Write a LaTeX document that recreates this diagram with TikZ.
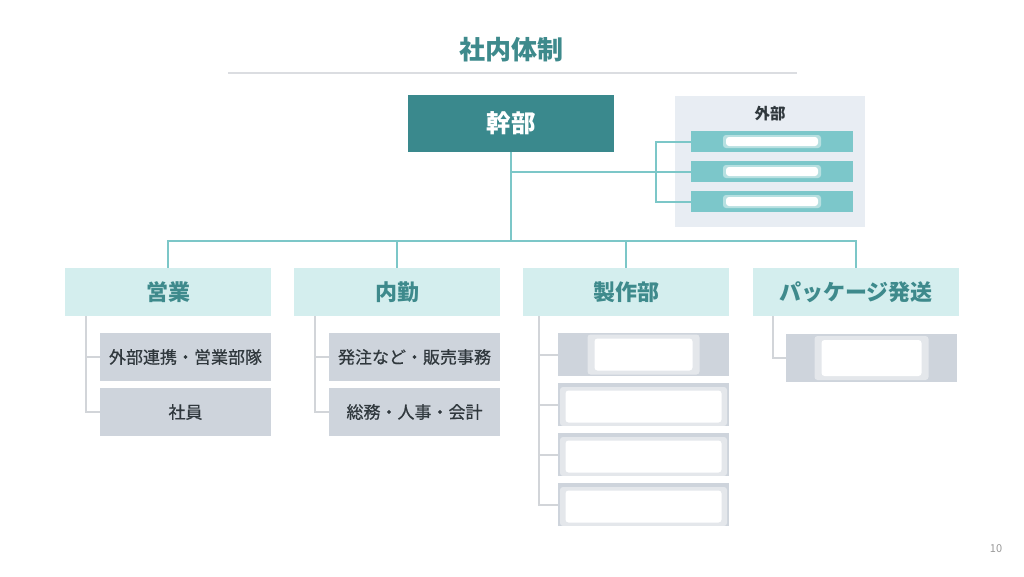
\documentclass[tikz,border=0pt]{standalone}
\usepackage{fontspec}
\setmainfont{Noto Sans CJK JP}
\definecolor{teal1}{HTML}{3A898D}
\definecolor{tealtext}{HTML}{3E8A8C}
\definecolor{tealline}{HTML}{7CC7C8}
\definecolor{deptfill}{HTML}{D4EEEE}
\definecolor{subfill}{HTML}{CED4DC}
\definecolor{grayline}{HTML}{D2D5D9}
\definecolor{extfill}{HTML}{E8EDF3}
\definecolor{extbar}{HTML}{7CC7CA}
\definecolor{darktext}{HTML}{30383D}
\tikzset{
  headbox/.style={fill=teal1, text=white, font=\fontsize{24.5}{28}\selectfont\bfseries, inner sep=0pt, minimum width=206pt, minimum height=57pt},
  deptbox/.style={fill=deptfill, text=tealtext, font=\fontsize{22}{26}\selectfont\bfseries, inner sep=0pt, minimum width=206pt, minimum height=48pt},
  subbox/.style={fill=subfill, text=darktext, font=\fontsize{17}{20}\selectfont\addfontfeature{FakeBold=0.6}, inner sep=0pt, minimum width=171pt, minimum height=48pt},
  prodbox/.style={fill=subfill, inner sep=0pt, minimum width=171pt, minimum height=43pt},
  extbarbox/.style={fill=extbar, inner sep=0pt, minimum width=162pt, minimum height=21pt},
  blur/.style={fill=white, inner sep=0pt, rounded corners=3pt},
  tline/.style={draw=tealline, line width=2pt},
  gline/.style={draw=grayline, line width=2pt},
}
\begin{document}
\begin{tikzpicture}[x=1pt,y=-1pt]
\useasboundingbox (0,0) rectangle (1024,576);
% title
\node[text=tealtext, font=\fontsize{26}{30}\selectfont\bfseries] (title) at (511,50) {社内体制};
\coordinate (rl) at (228,73);
\coordinate (rr) at (797,73);
\draw[draw=grayline!80, line width=1.2pt] (rl) -- (rr);
% head
\node[headbox] (head) at (511,123.5) {幹部};
% external
\node[fill=extfill, inner sep=0pt, minimum width=190pt, minimum height=131pt] (ext) at (770,161.5) {};
\node[text=darktext, font=\fontsize{15.5}{18}\selectfont\bfseries] (extlabel) at (770,114) {外部};
\node[extbarbox] (e1) at (772,141.5) {};
\node[extbarbox] (e2) at (772,171.5) {};
\node[extbarbox] (e3) at (772,201.5) {};
\foreach \n in {e1,e2,e3}{
  \node[blur, minimum width=98pt, minimum height=13pt, fill opacity=0.45] at (\n.center) {};
  \node[blur, minimum width=92pt, minimum height=9pt] at (\n.center) {};
}
% departments
\node[deptbox] (d1) at (168,292) {営業};
\node[deptbox] (d2) at (397,292) {内勤};
\node[deptbox] (d3) at (626,292) {製作部};
\node[deptbox] (d4) at (856,292) {パッケージ発送};
% connectors teal
\coordinate (bus) at (511,241);
\coordinate (extj) at (511,171.5);
\coordinate (bx) at (656,171.5);
\draw[tline] (head.south) -- (bus);
\draw[tline] (extj) -- (e2.west);
\draw[tline] (e1.west) -- (e1.west -| bx) -- (e3.west -| bx) -- (e3.west);
\draw[tline] (d1.north) -- (d1.north |- bus) -- (d4.north |- bus) -- (d4.north);
\draw[tline] (d2.north) -- (d2.north |- bus);
\draw[tline] (d3.north) -- (d3.north |- bus);
% sub boxes
\node[subbox] (s11) at (185.5,357) {外部連携・営業部隊};
\node[subbox] (s12) at (185.5,412) {社員};
\node[subbox] (s21) at (414.5,357) {発注など・販売事務};
\node[subbox] (s22) at (414.5,412) {総務・人事・会計};
\node[prodbox] (p1) at (643.5,354.5) {};
\node[prodbox] (p2) at (643.5,404.5) {};
\node[prodbox] (p3) at (643.5,454.5) {};
\node[prodbox] (p4) at (643.5,504.5) {};
\node[subbox] (k1) at (871.5,358) {};
% blurred contents
\node[blur, minimum width=112pt, minimum height=40pt, fill opacity=0.45] at (p1.center) {};
\node[blur, minimum width=98pt, minimum height=32pt] at (p1.center) {};
\foreach \n in {p2,p3,p4}{
  \node[blur, minimum width=167pt, minimum height=39pt, fill opacity=0.45] at ([yshift=-2pt]\n.center) {};
  \node[blur, minimum width=156pt, minimum height=32pt] at ([yshift=-2pt]\n.center) {};
}
\node[blur, minimum width=114pt, minimum height=44pt, fill opacity=0.45] at (k1.center) {};
\node[blur, minimum width=100pt, minimum height=36pt] at (k1.center) {};
% gray connectors
\coordinate (g1) at (86,316);
\coordinate (g2) at (315,316);
\coordinate (g3) at (539,316);
\coordinate (g4) at (773,316);
\draw[gline] (g1) -- (g1 |- s12.west) -- (s12.west);
\draw[gline] (g1 |- s11.west) -- (s11.west);
\draw[gline] (g2) -- (g2 |- s22.west) -- (s22.west);
\draw[gline] (g2 |- s21.west) -- (s21.west);
\draw[gline] (g3) -- (g3 |- p4.west) -- (p4.west);
\draw[gline] (g3 |- p1.west) -- (p1.west);
\draw[gline] (g3 |- p2.west) -- (p2.west);
\draw[gline] (g3 |- p3.west) -- (p3.west);
\draw[gline] (g4) -- (g4 |- k1.west) -- (k1.west);
% page number
\node[text=gray!80, font=\fontsize{11}{13}\selectfont] (pg) at (996,549) {10};
\end{tikzpicture}
\end{document}
